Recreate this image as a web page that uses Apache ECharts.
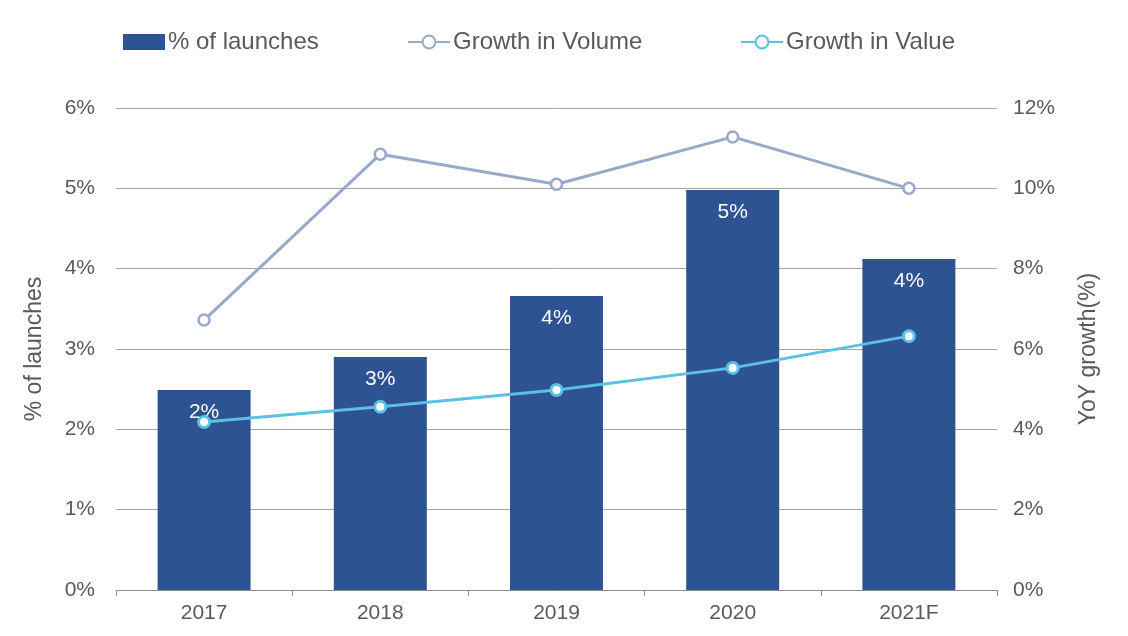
<!DOCTYPE html>
<html>
<head>
    <meta charset="UTF-8">
    <title>Launches and growth</title>
    <script src="https://cdn.jsdelivr.net/npm/echarts@6/dist/echarts.min.js"></script>
    <style>
        html, body { margin: 0; padding: 0; background: #fff; }
    </style>
</head>
<body>
    <div id="chart" style="width:1128px; height:636px;"></div>
    <script>
        // values
        var years = ['2017', '2018', '2019', '2020', '2021F'];
        var launchShare = [2.49, 2.90, 3.66, 4.98, 4.12];
        var volumeGrowth = [6.72, 10.85, 10.1, 11.28, 10.0];
        var valueGrowth = [4.18, 4.56, 4.98, 5.53, 6.32];

        var textColor = '#595959';
        var font = 'Liberation Sans';

        // one legend block per entry so each sits where the reference has it
        function legendAt(left, name, icon) {
            var item = {name: name};
            if (icon) item.icon = icon;
            return {
                left: left,
                top: 25,
                itemWidth: 42,
                itemHeight: 16,
                itemGap: 0,
                textStyle: {color: textColor, fontSize: 24, fontFamily: font, padding: [0, 0, 0, -2]},
                data: [item]
            };
        }

        var chart = echarts.init(document.getElementById('chart'), null, {renderer: 'canvas'});

        chart.setOption({
            animation: false,
            textStyle: {fontFamily: font},
            legend: [
                legendAt(118, '% of launches', 'rect'),
                legendAt(402, 'Growth in Volume'),
                legendAt(735, 'Growth in Value')
            ],
            grid: {left: 116, right: 131, top: 108, bottom: 46},
            xAxis: {
                type: 'category',
                data: years,
                axisLine: {lineStyle: {color: '#8c8c8c', width: 1}},
                axisTick: {show: true, length: 6, lineStyle: {color: '#8c8c8c'}},
                axisLabel: {color: textColor, fontSize: 21, margin: 13}
            },
            yAxis: [
                {
                    type: 'value',
                    min: 0, max: 6, interval: 1,
                    name: '% of launches',
                    nameLocation: 'middle',
                    nameGap: 70,
                    nameTextStyle: {color: textColor, fontSize: 23},
                    axisLine: {show: false},
                    axisTick: {show: false},
                    axisLabel: {color: textColor, fontSize: 21, margin: 21, formatter: '{value}%'},
                    splitLine: {lineStyle: {color: '#a6a6a6', width: 1}}
                },
                {
                    type: 'value',
                    min: 0, max: 12, interval: 2,
                    name: 'YoY growth(%)',
                    nameLocation: 'middle',
                    nameGap: 80,
                    nameRotate: 90,
                    nameTextStyle: {color: textColor, fontSize: 23},
                    axisLine: {show: false},
                    axisTick: {show: false},
                    axisLabel: {color: textColor, fontSize: 21, margin: 16, formatter: '{value}%'},
                    splitLine: {show: false}
                }
            ],
            series: [
                {
                    name: '% of launches',
                    type: 'bar',
                    data: launchShare,
                    barWidth: 93,
                    itemStyle: {color: '#2e5392'},
                    label: {
                        show: true,
                        position: 'insideTop',
                        distance: 12,
                        color: '#ffffff',
                        fontSize: 21,
                        formatter: function (p) { return Math.round(p.value) + '%'; }
                    }
                },
                {
                    name: 'Growth in Volume',
                    type: 'line',
                    yAxisIndex: 1,
                    data: volumeGrowth,
                    symbol: 'circle',
                    symbolSize: 11,
                    lineStyle: {color: '#98a9c9', width: 3},
                    itemStyle: {color: '#ffffff', borderColor: '#98a9c9', borderWidth: 2.5}
                },
                {
                    name: 'Growth in Value',
                    type: 'line',
                    yAxisIndex: 1,
                    data: valueGrowth,
                    symbol: 'circle',
                    symbolSize: 11,
                    lineStyle: {color: '#5bc0e2', width: 3},
                    itemStyle: {color: '#ffffff', borderColor: '#5bc0e2', borderWidth: 3}
                }
            ]
        });
    </script>
</body>
</html>
